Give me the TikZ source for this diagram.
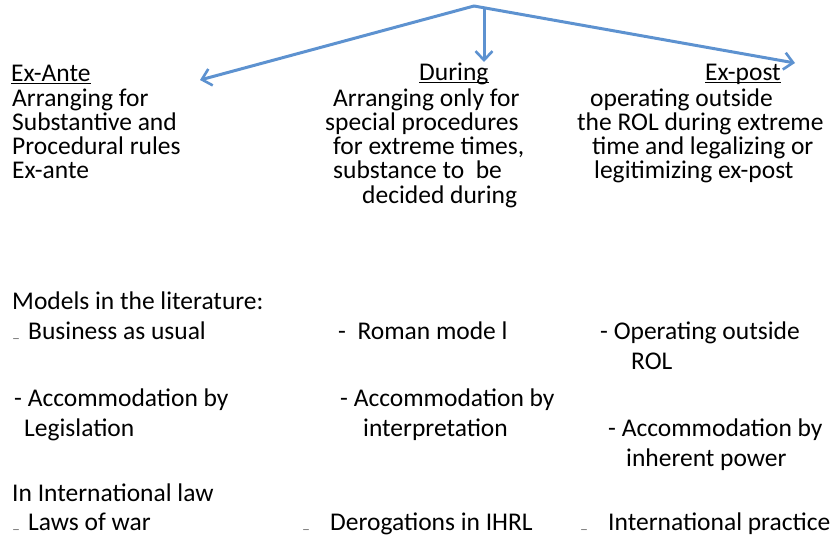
\documentclass[tikz,border=0pt]{standalone}
\usepackage{fontspec}
\setmainfont{Carlito}
\usetikzlibrary{arrows.meta}

\tikzset{
    txt/.style={anchor=base west,inner sep=0pt,font=\fontsize{25.5}{24}\selectfont},
    lowdash/.style={anchor=base west,inner sep=0pt,yshift=-4pt,text=gray,font=\fontsize{16}{16}\selectfont},
    blueArrow/.style={draw=arrowBlue,line width=3pt,line cap=round,
        -{Straight Barb[length=9pt,width=17pt,line width=2.6pt]}},
    headRule/.style={line width=1.5pt}
}

\begin{document}
\begin{tikzpicture}[x=1pt,y=-1pt]
            \definecolor{arrowBlue}{RGB}{93,146,208}
            \useasboundingbox (0,0) rectangle (838,542);
            % the three arrows
            \coordinate (top) at (474,6);
            \coordinate (topMid) at (484,8);
            \coordinate (tipLeft) at (200,80);
            \coordinate (tipMid) at (484,62);
            \coordinate (tipRight) at (795,63);
            \draw[blueArrow] (top) -- (tipLeft);
            \draw[blueArrow] (topMid) -- (tipMid);
            \draw[blueArrow] (top) -- (tipRight);
            % headings
            \node[txt] (exAnte) at (11,81) {Ex-Ante};
            \node[txt] (during) at (419,80) {During};
            \node[txt] (exPost) at (705,80) {Ex-post};
            \foreach \h in {exAnte,during,exPost}
                {   \draw[headRule] ([yshift=-2.5pt]\h.base west) -- ([yshift=-2.5pt]\h.base east);
                }
            % upper columns
            \foreach \x/\y/\t [count=\i] in {12/106/Arranging for,12/130/Substantive and,
                    12/154/Procedural rules,12/178/Ex-ante}
                \node[txt] (ante\i) at (\x,\y) {\t};
            \foreach \x/\y/\t [count=\i] in {333/106/Arranging only for,325/130/special procedures,
                    333/154/{for extreme times,},333/178/substance to~ be,362/203/decided during}
                \node[txt] (dur\i) at (\x,\y) {\t};
            \foreach \x/\y/\t [count=\i] in {590/106/operating outside,577/130/the ROL during extreme,
                    592/154/time and legalizing or,594/178/legitimizing ex-post}
                \node[txt] (post\i) at (\x,\y) {\t};
            % models in the literature
            \node[txt] (models) at (12,309) {Models in the literature:};
            \foreach \x/\y/\t [count=\i] in {28/339/Business as usual,14/406/- Accommodation by,
                    24/436/Legislation,338/339/-~ Roman mode l,340/406/- Accommodation by,
                    363/436/interpretation,600/339/- Operating outside,631/369/ROL,
                    608/436/- Accommodation by,626/466/inherent power}
                \node[txt] (model\i) at (\x,\y) {\t};
            % international law
            \node[txt] (intLaw) at (12,501) {In International law};
            \foreach \x/\t [count=\i] in {28/Laws of war,330/Derogations in IHRL,608/International practice}
                \node[txt] (law\i) at (\x,530) {\t};
            \foreach \x/\y [count=\i] in {12/339,12/530,302/530,580/530}
                \node[lowdash] (dash\i) at (\x,\y) {\textendash};
        \end{tikzpicture}
\end{document}
